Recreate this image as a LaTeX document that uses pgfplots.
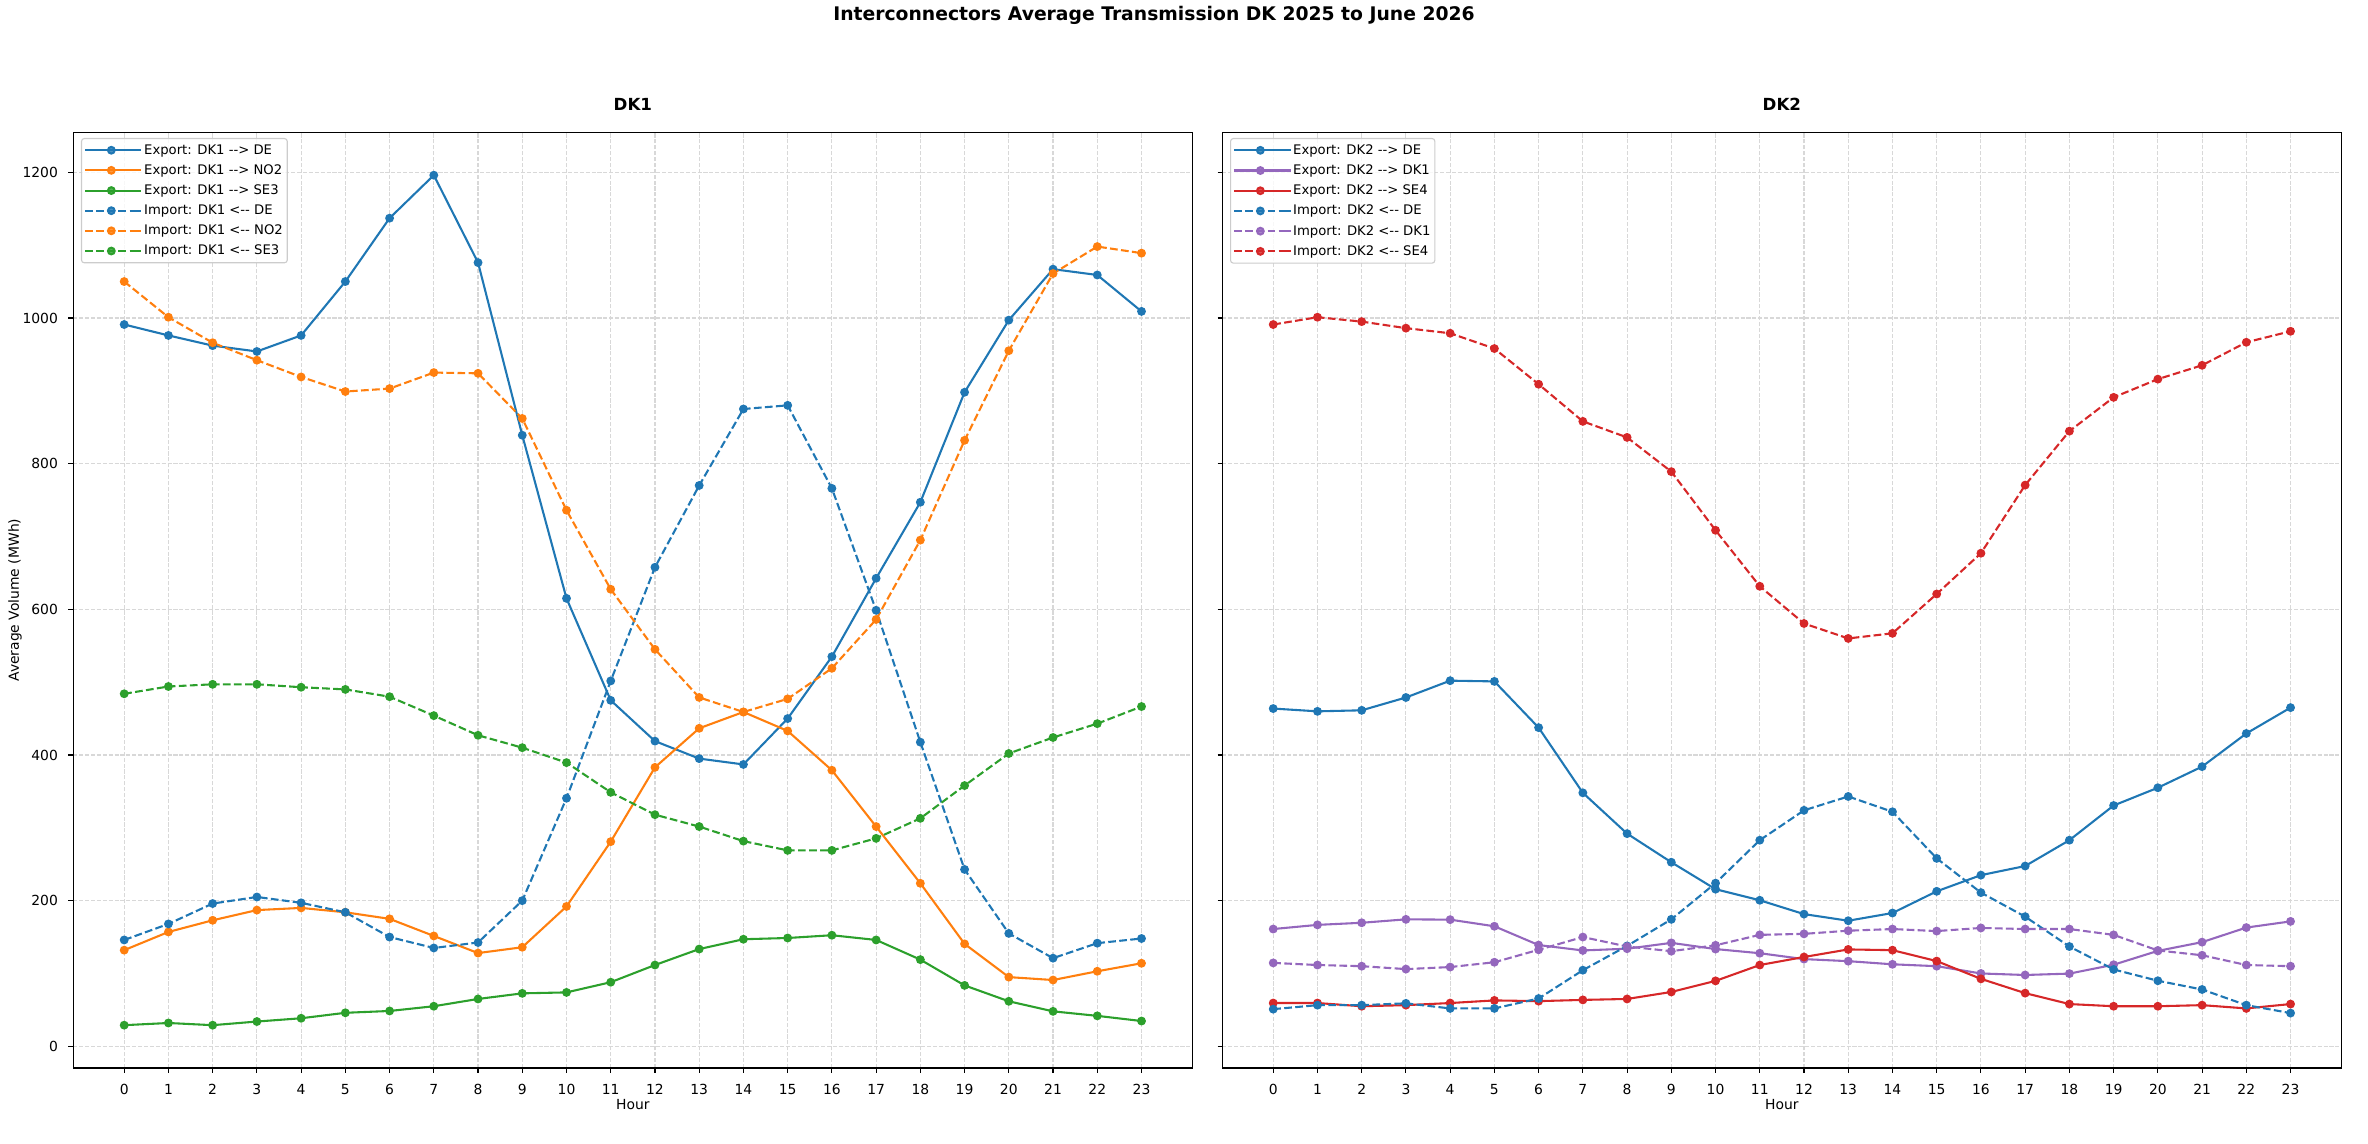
\documentclass[border=0pt]{standalone}
\usepackage{fontspec}
\setmainfont{DejaVu Sans}
\usepackage{pgfplots}
\usepackage{pgfplotstable}
\pgfplotsset{compat=1.18}

\definecolor{tabblue}{HTML}{1F77B4}
\definecolor{taborange}{HTML}{FF7F0E}
\definecolor{tabgreen}{HTML}{2CA02C}
\definecolor{tabred}{HTML}{D62728}
\definecolor{tabpurple}{HTML}{9467BD}
\definecolor{gridc}{HTML}{D8D8D8}
\definecolor{legc}{HTML}{CCCCCC}

\pgfplotstableread{
h expDE expNO2 expSE3 impDE impNO2 impSE3
0 991 132 29 146 1050 484
1 976 157 32 168 1001 494
2 962 173 29 196 966 497
3 954 187 34 205 942 497
4 976 190 38.5 197 919 493
5 1050 184 46 184 899 490
6 1137 175 48.5 150 903 480
7 1196 151.5 55 135 925 454
8 1076 128 65 142.5 924 427
9 839 136 72.7 200 862 410
10 615 192 74 340.6 736 389.5
11 475 281 88 501.7 627.5 348.7
12 419 383 111.6 657.7 545 318
13 395 436.6 133.5 770 479 301.7
14 387 459 147 875 459 281.7
15 450 433 148.7 880 477 269
16 535 379 152.5 766 519 269
17 642.6 301.7 146 598.6 586 285.5
18 747 223.8 119 417.6 695 313
19 898 140.6 83.6 242.8 832 358
20 997 95 61.8 155 955 402
21 1067 91 48 121 1061 424
22 1059 103 41.8 141.6 1098 443
23 1009 114 34.7 148 1089 466.5
}\dkone

\pgfplotstableread{
h expDE expDK1 expSE4 impDE impDK1 impSE4
0 463.7 161 59.4 51 114.5 991
1 459.9 166.7 59.4 56.5 111.6 1001
2 461.3 169.6 55 56.5 110 995
3 478.9 174.3 56.5 59 106 986
4 502 173.9 59.4 52 108.8 979
5 501 164.8 63 52 115.4 958
6 437.5 139 62 65.6 132.5 909
7 348 131.6 63.7 104.5 150 858
8 292 134 65 137.8 137 836
9 252.7 142 74.6 174.3 130.6 789
10 215.7 133.5 89.8 224 138.7 708.5
11 200.5 127.8 111.6 283 153 631.6
12 181.5 119.7 122.6 324 154.4 580.5
13 172.4 116.9 133 343 158.7 560
14 183 112.6 132 322 161 567
15 212.8 110 117 258 158.2 621
16 235 100 92.6 211 162.5 677
17 247.5 97.9 73 178 161 770.5
18 283 99.8 58 137 161 844.6
19 330.6 112 55 105.5 153 891
20 355 131 55 90 131.6 916
21 384 143 56.5 78 125 935
22 429.5 163 52 56.5 111.6 966.6
23 465 171.5 58 45.6 110 981.7
}\dktwo

\pgfplotsset{
  mpl/.style={
    scale only axis, width=805.7pt, height=673.7pt,
    anchor=south west,
    xmin=-1.15, xmax=24.15, ymin=-29.8, ymax=1254.9,
    xtick={0,...,23}, ytick={0,200,...,1200},
    tick align=outside, tick pos=left, major tick length=3.5pt,
    every tick/.style={line width=0.8pt, black},
    axis line style={line width=0.8pt},
    grid=major,
    major grid style={line width=0.8pt, color=gridc, dash pattern=on 2.96pt off 1.28pt},
    /pgf/number format/assume math mode=true,
    /pgf/number format/1000 sep={},
    ticklabel style={font=\fontsize{10}{12}\selectfont, inner sep=0pt},
    xticklabel style={anchor=north, yshift=-7.9pt},
    yticklabel style={anchor=east, xshift=-7.4pt},
    xlabel={Hour},
    xlabel style={font=\fontsize{10}{12}\selectfont, at={(0.5,0)}, anchor=north, inner sep=0pt, yshift=-22.3pt},
    title style={font=\bfseries\fontsize{12}{14}\selectfont, at={(0.5,1)}, anchor=base, inner sep=0pt, yshift=9.8pt},
    legend cell align=left,
    legend style={at={(0,1)}, anchor=north west, xshift=5.5pt, yshift=-4.1pt,
      draw=legc, line width=0.8pt, rounded corners=2pt, fill=white, fill opacity=0.8, text opacity=1,
      font=\fontsize{9.5}{11}\selectfont, row sep=3.6pt, inner xsep=2pt, inner ysep=3pt,
      nodes={inner sep=1.2pt}},
    legend image code/.code={\draw[mark repeat=2, mark phase=2] plot coordinates {(0pt,0pt) (18.7pt,0pt) (37.4pt,0pt)}; \path (37.4pt,0pt) -- (40.4pt,0pt);},
    every axis plot/.append style={line width=1.5pt, mark=*, mark size=2.4pt},
  },
  exp/.style={color=#1, solid, mark options={fill=#1, draw=#1, solid}},
  imp/.style={color=#1, dash pattern=on 5.55pt off 2.4pt, mark options={fill=#1, draw=#1, solid}},
}

\begin{document}
\begin{tikzpicture}
\useasboundingbox (0,0) rectangle (1704.96pt,822.96pt);

\node[anchor=base, font=\bfseries\fontsize{13.5}{16}\selectfont, inner sep=0pt] at (830.9pt,808.1pt) {Interconnectors Average Transmission DK 2025 to June 2026};

\begin{axis}[mpl, at={(52.8pt,54pt)}, title={DK1},
  ylabel={Average Volume (MWh)},
  ylabel style={font=\fontsize{10}{12}\selectfont, at={(0,0.5)}, anchor=center, inner sep=0pt, yshift=42pt}]
\addplot[exp=tabblue] table[x=h, y=expDE] {\dkone};
\addlegendentry{Export: DK1 -{}-> DE}
\addplot[exp=taborange] table[x=h, y=expNO2] {\dkone};
\addlegendentry{Export: DK1 -{}-> NO2}
\addplot[exp=tabgreen] table[x=h, y=expSE3] {\dkone};
\addlegendentry{Export: DK1 -{}-> SE3}
\addplot[imp=tabblue] table[x=h, y=impDE] {\dkone};
\addlegendentry{Import: DK1 <-{}- DE}
\addplot[imp=taborange] table[x=h, y=impNO2] {\dkone};
\addlegendentry{Import: DK1 <-{}- NO2}
\addplot[imp=tabgreen] table[x=h, y=impSE3] {\dkone};
\addlegendentry{Import: DK1 <-{}- SE3}
\end{axis}

\begin{axis}[mpl, at={(880.1pt,54pt)}, title={DK2}, yticklabels={}]
\addplot[exp=tabblue] table[x=h, y=expDE] {\dktwo};
\addlegendentry{Export: DK2 -{}-> DE}
\addplot[exp=tabpurple] table[x=h, y=expDK1] {\dktwo};
\addlegendentry{Export: DK2 -{}-> DK1}
\addplot[exp=tabred] table[x=h, y=expSE4] {\dktwo};
\addlegendentry{Export: DK2 -{}-> SE4}
\addplot[imp=tabblue] table[x=h, y=impDE] {\dktwo};
\addlegendentry{Import: DK2 <-{}- DE}
\addplot[imp=tabpurple] table[x=h, y=impDK1] {\dktwo};
\addlegendentry{Import: DK2 <-{}- DK1}
\addplot[imp=tabred] table[x=h, y=impSE4] {\dktwo};
\addlegendentry{Import: DK2 <-{}- SE4}
\end{axis}
\end{tikzpicture}
\end{document}
